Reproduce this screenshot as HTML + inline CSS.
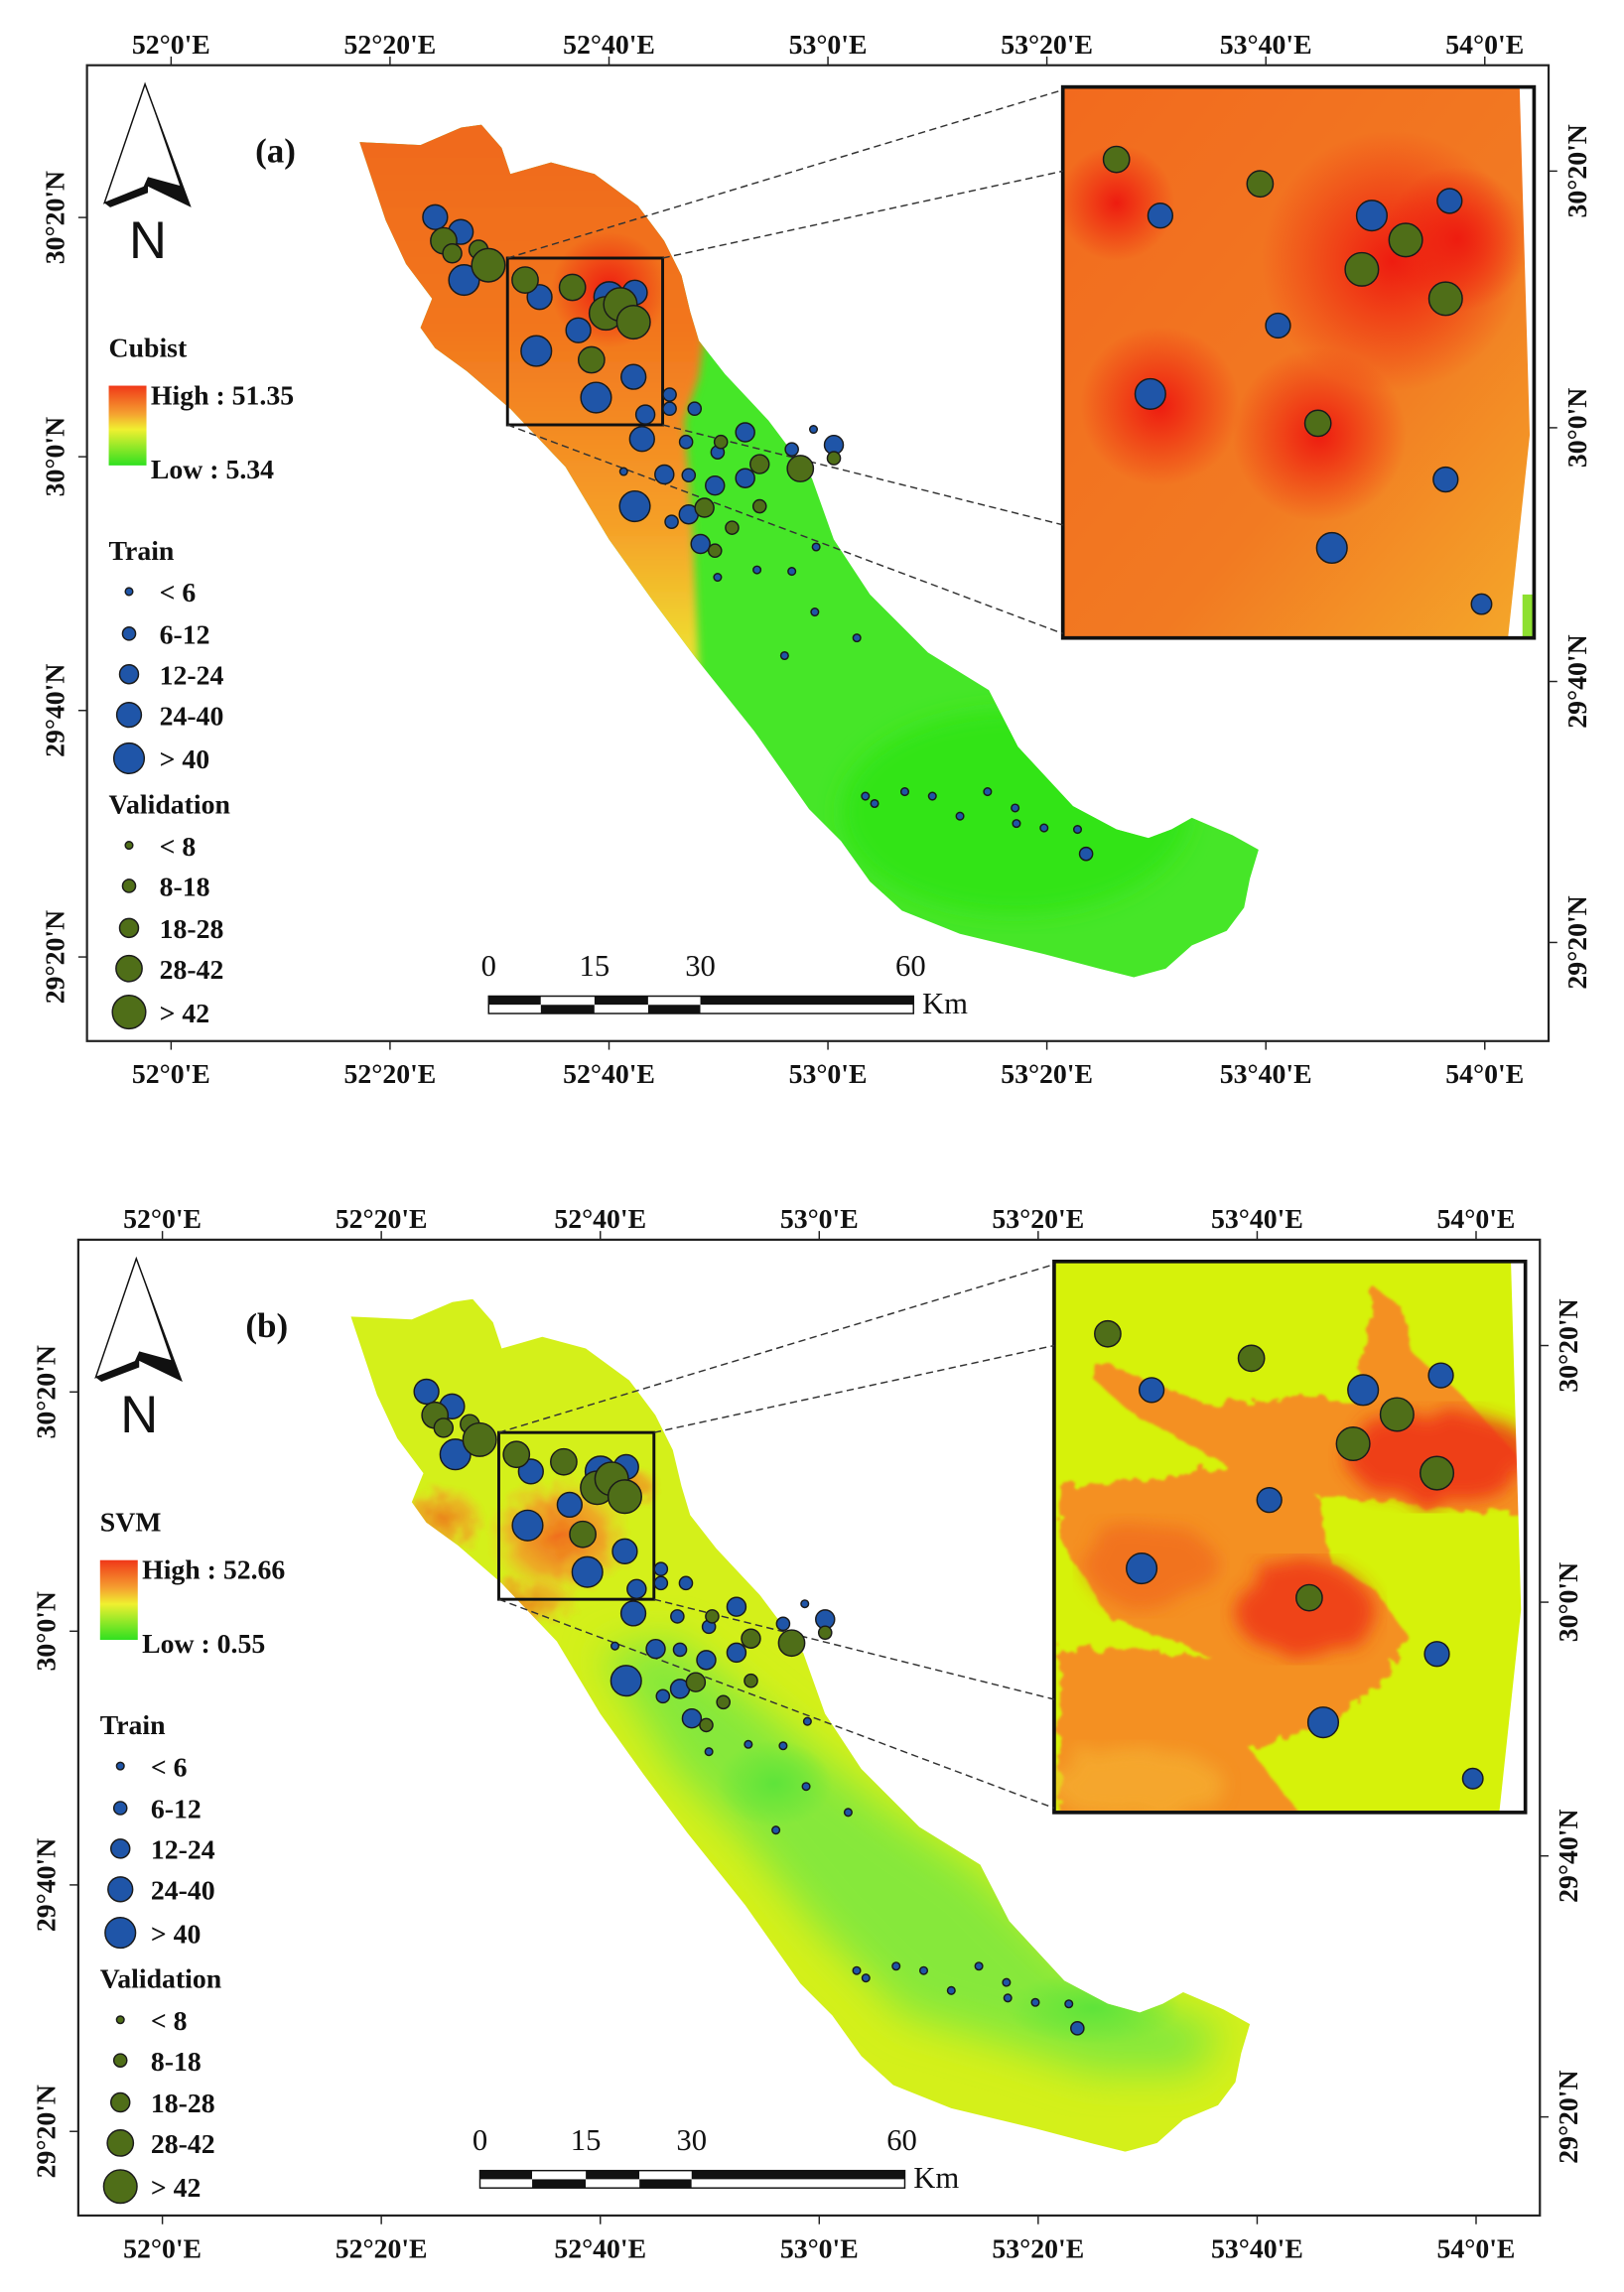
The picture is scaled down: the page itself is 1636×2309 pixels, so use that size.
<!DOCTYPE html>
<html><head><meta charset="utf-8">
<style>
html,body{margin:0;padding:0;background:#fff;width:1636px;height:2302px;overflow:hidden}
#wrap{position:absolute;left:0;top:0;width:1120px;height:1576px;transform:scale(1.4607);transform-origin:0 0}
svg text{font-family:"Liberation Serif",serif;font-weight:bold;fill:#111}
</style></head>
<body>
<div id="wrap">
<svg id="svg" width="1120" height="1576" viewBox="0 0 1120 1576">
<defs>
 <linearGradient id="orgA" x1="0" y1="90" x2="0" y2="480" gradientUnits="userSpaceOnUse">
  <stop offset="0" stop-color="#f06a1c"/><stop offset="0.35" stop-color="#f2761e"/>
  <stop offset="0.7" stop-color="#f5a028"/><stop offset="0.9" stop-color="#f0d830"/><stop offset="1" stop-color="#d8ee30"/>
 </linearGradient>
 <linearGradient id="legGrad" x1="0" y1="0" x2="0" y2="1">
  <stop offset="0" stop-color="#f03818"/><stop offset="0.35" stop-color="#f5a030"/>
  <stop offset="0.55" stop-color="#f0f030"/><stop offset="1" stop-color="#30e020"/>
 </linearGradient>
 <radialGradient id="hot"><stop offset="0" stop-color="#ee1c10"/><stop offset="1" stop-color="#ee1c10" stop-opacity="0"/></radialGradient>
 <radialGradient id="grn"><stop offset="0" stop-color="#5ee43a"/><stop offset="1" stop-color="#5ee43a" stop-opacity="0"/></radialGradient>
 <radialGradient id="orgB"><stop offset="0" stop-color="#f06a1a"/><stop offset="0.6" stop-color="#f39a28" stop-opacity="0.8"/><stop offset="1" stop-color="#f5c030" stop-opacity="0"/></radialGradient>
 <linearGradient id="insA" x1="0" y1="0" x2="1" y2="1">
  <stop offset="0" stop-color="#f26a1e"/><stop offset="0.6" stop-color="#f27a22"/><stop offset="1" stop-color="#f4a82a"/>
 </linearGradient>
 <filter id="blur8"><feGaussianBlur stdDeviation="8"/></filter>
 <filter id="blur14"><feGaussianBlur stdDeviation="14"/></filter>
 <filter id="blur3"><feGaussianBlur stdDeviation="3"/></filter>
 <filter id="noisy" x="-10%" y="-10%" width="120%" height="120%"><feTurbulence type="fractalNoise" baseFrequency="0.08" numOctaves="3" result="n"/><feDisplacementMap in="SourceGraphic" in2="n" scale="14"/><feGaussianBlur stdDeviation="1"/></filter>
 <filter id="soft"><feTurbulence type="fractalNoise" baseFrequency="0.05" numOctaves="2" result="n"/><feDisplacementMap in="SourceGraphic" in2="n" scale="20"/><feGaussianBlur stdDeviation="6"/></filter>
 <clipPath id="mapClip"><path id="mapShape" d="M248,98 L290,100 L318,88 L332,86 L346,102 L352,120 L380,112 L410,120 L440,142 L458,166 L470,190 L476,215 L482,235 L500,258 L530,290 L560,330 L575,372 L600,410 L640,450 L682,476 L702,515 L740,556 L770,572 L792,578 L808,572 L822,564 L850,576 L868,586 L862,606 L858,626 L846,642 L822,652 L804,668 L782,674 L758,668 L720,658 L662,644 L622,628 L600,608 L580,580 L558,558 L520,504 L480,454 L450,414 L420,372 L390,322 L352,282 L322,256 L300,240 L290,226 L298,206 L280,182 L266,152 L258,128 Z"/></clipPath>
 <clipPath id="insClip"><rect x="733" y="60" width="325" height="380"/></clipPath>
</defs>
<g id="panelA"></g>
<g id="panelB" transform="translate(-6,810)"></g>
</svg>
</div>
<script>
// ---- data ----
const lonTicks=[52,52.3333,52.6667,53,53.3333,53.6667,54];
const lonLabels=["52°0'E","52°20'E","52°40'E","53°0'E","53°20'E","53°40'E","54°0'E"];
const latTicks=[30.3333,30,29.6667,29.3333];
const latLabels=["30°20'N","30°0'N","29°40'N","29°20'N"];
const trainLon=[52.402,52.441,52.446,52.561,52.556,52.620,52.667,52.706,52.647,52.704,52.722,52.717,52.759,52.759,52.797,52.784,52.874,52.832,52.828,52.874,52.788,52.751,52.706,52.762,52.788,52.806,53.009,52.945,52.978,52.832,52.892,52.945,52.982,52.934,52.980,53.044,52.689,53.057,53.071,53.117,53.159,53.201,53.243,53.285,53.287,53.329,53.380,53.393];
const trainLat=[30.324,30.304,30.239,30.216,30.143,30.171,30.216,30.222,30.080,30.108,30.057,30.024,30.084,30.065,30.065,30.020,30.033,30.006,29.961,29.971,29.975,29.976,29.933,29.912,29.922,29.882,30.016,30.010,30.037,29.837,29.847,29.845,29.878,29.731,29.790,29.755,29.980,29.541,29.531,29.547,29.541,29.514,29.547,29.525,29.504,29.498,29.496,29.463];
const trainVal=[32,32,45,32,45,32,45,32,45,32,18,32,9,9,9,9,18,9,18,18,9,18,45,9,18,18,18,9,4,4,4,4,4,4,4,4,4,4,4,4,4,4,4,4,4,4,4,9];
const valLon=[52.415,52.428,52.468,52.483,52.539,52.611,52.662,52.684,52.704,52.640,52.837,52.812,52.854,52.958,53.009,52.896,52.896,52.828];
const valLat=[30.292,30.275,30.280,30.259,30.239,30.229,30.194,30.206,30.182,30.131,30.020,29.931,29.904,29.984,29.998,29.990,29.933,29.873];
const valVal=[35,22,22,48,35,35,48,48,48,35,12,22,12,35,12,22,12,12];
const trainClasses=["< 6","6-12","12-24","24-40","> 40"];
const valClasses=["< 8","8-18","18-28","28-42","> 42"];
const scaleLabels=["0","15","30","60"];
// ---- scales ----
const xS=lon=>118+(lon-52)*453;
const yS=lat=>315-(lat-30)*510;
const rTrain=v=>v<6?2.6:v<12?4.5:v<24?6.5:v<40?8.5:10.5;
const rVal=v=>v<8?2.6:v<18?4.5:v<28?6.5:v<42?9:11.5;
const NS="http://www.w3.org/2000/svg";
function mk(parent,tag,attrs,txt){const e=document.createElementNS(NS,tag);for(const k in attrs)e.setAttribute(k,attrs[k]);if(txt!==undefined)e.textContent=txt;parent.appendChild(e);return e;}
const rect={x0:350,y0:178,x1:457,y1:293}, ins={x0:733,y0:60,x1:1058,y1:440};
const ix=x=>ins.x0+(x-rect.x0)*(ins.x1-ins.x0)/(rect.x1-rect.x0);
const iy=y=>ins.y0+(y-rect.y0)*(ins.y1-ins.y0)/(rect.y1-rect.y0);

function build(g,kind){
 const mapG=mk(g,'g',{'clip-path':'url(#mapClip)'});
 
 
 if(kind==='a'){
  mk(mapG,'rect',{x:200,y:60,width:700,height:640,fill:'#46e628'});
  mk(mapG,'ellipse',{cx:700,cy:560,rx:120,ry:70,fill:'#30e418',filter:'url(#blur8)'});
  mk(mapG,'path',{d:'M200,60 L520,60 L490,200 L482,260 L472,290 L478,370 L482,460 L470,500 L200,500 Z',fill:'url(#orgA)',filter:'url(#blur3)'});
  mk(mapG,'ellipse',{cx:420,cy:200,rx:40,ry:40,fill:'url(#hot)'});
 } else {
  mk(mapG,'rect',{x:200,y:60,width:700,height:640,fill:'#d4f01a'});
  mk(mapG,'path',{d:'M420,330 L470,320 L520,360 L570,400 L620,440 L680,480 L740,540 L800,570 L850,590 L830,620 L760,620 L700,600 L630,580 L570,520 L520,460 L470,410 Z',fill:'#86e83a',filter:'url(#blur14)'});
  mk(mapG,'ellipse',{cx:540,cy:420,rx:40,ry:30,fill:'url(#grn)'});
  mk(mapG,'ellipse',{cx:760,cy:575,rx:60,ry:25,fill:'url(#grn)'});
  mk(mapG,'ellipse',{cx:392,cy:250,rx:50,ry:42,fill:'url(#orgB)',filter:'url(#noisy)'});
  mk(mapG,'ellipse',{cx:312,cy:237,rx:30,ry:22,fill:'url(#orgB)',opacity:'0.8',filter:'url(#noisy)'});
  mk(mapG,'ellipse',{cx:440,cy:215,rx:22,ry:15,fill:'url(#orgB)',opacity:'0.8',filter:'url(#noisy)'});
  mk(mapG,'ellipse',{cx:370,cy:295,rx:35,ry:18,fill:'url(#orgB)',opacity:'0.7',filter:'url(#noisy)'});
 }
 // inset
 const inG=mk(g,'g',{'clip-path':'url(#insClip)'});
 
 
 if(kind==='a'){
  mk(inG,'rect',{x:733,y:60,width:325,height:380,fill:'url(#insA)'});
  [[960,180,90],[910,300,60],[800,280,55],[770,140,40],[1005,165,50]].forEach(h=>mk(inG,'circle',{cx:h[0],cy:h[1],r:h[2],fill:'url(#hot)'}));
  mk(inG,'path',{d:'M1048,60 L1058,60 L1058,440 L1040,440 L1055,300 Z',fill:'#fff'});
  mk(inG,'rect',{x:1050,y:410,width:10,height:30,fill:'#8ee030'});
 } else {
  mk(inG,'rect',{x:733,y:60,width:325,height:380,fill:'#d6f20a'});
  mk(inG,'path',{d:'M760,129 L794,141 L840,159 L908,154 L942,159 L954,78 L972,91 L983,126 L1011,149 L1063,205 L1063,235 L999,230 L954,225 L913,220 L924,268 L954,286 L977,319 L954,357 L908,382 L867,395 L908,448 L737,448 L737,326 L840,331 L771,306 L737,250 L737,215 L794,210 L851,200 L783,162 L760,141 Z',fill:'#f49022',filter:'url(#noisy)'});
  mk(inG,'ellipse',{cx:1000,cy:195,rx:65,ry:32,fill:'#ee3212',opacity:'0.85',filter:'url(#soft)'});
  mk(inG,'ellipse',{cx:905,cy:300,rx:48,ry:32,fill:'#ee3212',opacity:'0.8',filter:'url(#soft)'});
  mk(inG,'ellipse',{cx:800,cy:270,rx:45,ry:30,fill:'#f0601a',opacity:'0.6',filter:'url(#soft)'});
  mk(inG,'ellipse',{cx:790,cy:420,rx:60,ry:25,fill:'#f5b030',opacity:'0.7',filter:'url(#soft)'});
  mk(inG,'path',{d:'M1048,60 L1058,60 L1058,440 L1040,440 L1055,300 Z',fill:'#fff'});
 }
 mk(g,'rect',{x:733,y:60,width:325,height:380,fill:'none',stroke:'#111','stroke-width':2.5});
 // rect & dashed lines
 mk(g,'rect',{x:rect.x0,y:rect.y0,width:rect.x1-rect.x0,height:rect.y1-rect.y0,fill:'none',stroke:'#111','stroke-width':2});
 [[rect.x0,rect.y0,733,62],[rect.x1,rect.y0,733,118],[rect.x1,rect.y1,733,362],[rect.x0,rect.y1,733,437]].forEach(l=>{
  const ln=mk(g,'line',{x1:l[0],y1:l[1],x2:l[2],y2:l[3],stroke:'#333','stroke-width':1,'stroke-dasharray':'5,3'});
  
  
 });
 // points
 function dots(lons,lats,vals,rf,fill,name){
  for(let i=0;i<lons.length;i++){
   const x=xS(lons[i]),y=yS(lats[i]),r=rf(vals[i]);
   const c=mk(g,'circle',{cx:x,cy:y,r:r,fill:fill,stroke:'#1a1a1a','stroke-width':1});
   
   
   if(x>rect.x0&&x<rect.x1&&y>rect.y0&&y<rect.y1){
    const c2=mk(g,'circle',{cx:ix(x),cy:iy(y),r:Math.max(r,7),fill:fill,stroke:'#1a1a1a','stroke-width':1});
    
    
   }
  }
 }
 dots(trainLon,trainLat,trainVal,rTrain,'#1f55a8','train-point');
 dots(valLon,valLat,valVal,rVal,'#4f6e18','validation-point');
 // frame + ticks
 mk(g,'rect',{x:60,y:45,width:1008,height:673,fill:'none',stroke:'#222','stroke-width':1.5});
 lonTicks.forEach((t,i)=>{
  const x=xS(t);
  mk(g,'line',{x1:x,y1:45,x2:x,y2:39,stroke:'#222'});
  mk(g,'line',{x1:x,y1:718,x2:x,y2:724,stroke:'#222'});
  const a=mk(g,'text',{x:x,y:37,'text-anchor':'middle','font-size':19},lonLabels[i]);
  
  
  const b=mk(g,'text',{x:x,y:747,'text-anchor':'middle','font-size':19},lonLabels[i]);
  
  
 });
 const rightY=[118,295,470,650];
 latTicks.forEach((t,i)=>{
  const yl=[150,315,490,660][i];
  mk(g,'line',{x1:60,y1:yl,x2:54,y2:yl,stroke:'#222'});
  mk(g,'line',{x1:1068,y1:rightY[i],x2:1074,y2:rightY[i],stroke:'#222'});
  const a=mk(g,'text',{x:0,y:0,'text-anchor':'middle','font-size':19,transform:`translate(44,${yl}) rotate(-90)`},latLabels[i]);
  
  
  const b=mk(g,'text',{x:0,y:0,'text-anchor':'middle','font-size':19,transform:`translate(1094,${rightY[i]}) rotate(-90)`},latLabels[i]);
  
  
 });
 // north arrow
 const na=mk(g,'g',{});
 
 
 mk(na,'polygon',{points:'100,58 72,140 102,128 131,142',fill:'#fff',stroke:'#111','stroke-width':1});
 mk(na,'polygon',{points:'100,58 131,142 102,128 98,131 102,122 124,128',fill:'#111'});
 mk(na,'polygon',{points:'72,140 102,128 102,133 76,143',fill:'#111'});
 mk(na,'text',{x:102,y:178,'text-anchor':'middle','font-size':36,style:'font-family:"Liberation Sans",sans-serif;font-weight:normal'},'N');
 const pl=mk(g,'text',{x:190,y:112,'text-anchor':'middle','font-size':24},kind==='a'?'(a)':'(b)');
 
 
 // legend
 const lg=mk(g,'g',{});
 
 
 mk(lg,'text',{x:75,y:246,'font-size':19},kind==='a'?'Cubist':'SVM');
 mk(lg,'rect',{x:75,y:266,width:26,height:55,fill:'url(#legGrad)'});
 mk(lg,'text',{x:104,y:279,'font-size':19},kind==='a'?'High : 51.35':'High : 52.66');
 mk(lg,'text',{x:104,y:330,'font-size':19},kind==='a'?'Low : 5.34':'Low : 0.55');
 mk(lg,'text',{x:75,y:386,'font-size':19},'Train');
 const tr=[2.6,4.5,6.5,8.5,10.5], vr=[2.6,4.5,6.5,9,11.5];
 trainClasses.forEach((c,i)=>{const y=[408,437,465,493,523][i];
  const e=mk(lg,'circle',{cx:89,cy:y,r:tr[i],fill:'#1f55a8',stroke:'#1a1a1a'});
  
  
  mk(lg,'text',{x:110,y:y+7,'font-size':19},c);});
 mk(lg,'text',{x:75,y:561,'font-size':19},'Validation');
 valClasses.forEach((c,i)=>{const y=[583,611,640,668,698][i];
  const e=mk(lg,'circle',{cx:89,cy:y,r:vr[i],fill:'#4f6e18',stroke:'#1a1a1a'});
  
  
  mk(lg,'text',{x:110,y:y+7,'font-size':19},c);});
 // scale bar
 const sb=mk(g,'g',{});
 
 
 const sx=[337,373,410,447,483,630];
 scaleLabels.forEach((s,i)=>mk(sb,'text',{x:[337,410,483,628][i],y:673,'text-anchor':'middle','font-size':21,style:'font-weight:normal'},s));
 for(let i=0;i<5;i++){
  mk(sb,'rect',{x:sx[i],y:687,width:sx[i+1]-sx[i],height:6,fill:i%2===0||i===4?'#111':'#fff'});
  mk(sb,'rect',{x:sx[i],y:693,width:sx[i+1]-sx[i],height:6,fill:i%2===1?'#111':'#fff'});
 }
 mk(sb,'rect',{x:337,y:687,width:293,height:12,fill:'none',stroke:'#111','stroke-width':1});
 mk(sb,'text',{x:636,y:699,'font-size':21,style:'font-weight:normal'},'Km');
}
build(document.getElementById('panelA'),'a');
build(document.getElementById('panelB'),'b');
</script>
</body></html>
